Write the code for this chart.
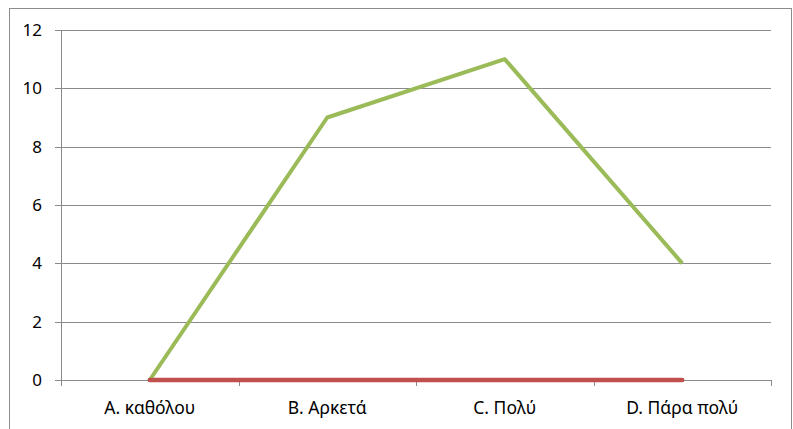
<!DOCTYPE html>
<html>
<head>
<meta charset="utf-8">
<script src="https://cdn.jsdelivr.net/npm/d3@7"></script>
<style>
  body { margin: 0; background: #fff; }
  svg { display: block; font-family: 'Noto Sans', sans-serif; }
</style>
</head>
<body>
<div id="chart"></div>
<script>
const categories = ['A. καθόλου', 'B. Αρκετά', 'C. Πολύ', 'D. Πάρα πολύ'];
const greenValues = [0, 9, 11, 4];
const redValues = [0, 0, 0, 0];
const yTicks = [0, 2, 4, 6, 8, 10, 12];

const width = 793,
  height = 429;
const margin = { top: 30, right: 22, bottom: 49, left: 61 };

const svg = d3
  .select('#chart')
  .append('svg')
  .attr('width', width)
  .attr('height', height);

// outer chart frame
svg
  .append('rect')
  .attr('x', 9.5)
  .attr('y', 8.5)
  .attr('width', 782)
  .attr('height', 440)
  .attr('fill', 'none')
  .attr('stroke', '#8c8c8c');

const x = d3
  .scaleBand()
  .domain(categories)
  .range([margin.left, width - margin.right]);

const y = d3
  .scaleLinear()
  .domain([0, 12])
  .range([height - margin.bottom, margin.top]);

// gridlines
svg
  .append('g')
  .selectAll('line')
  .data(yTicks)
  .enter()
  .append('line')
  .attr('x1', margin.left - 6)
  .attr('x2', width - margin.right)
  .attr('y1', (d) => Math.round(y(d)) + 0.5)
  .attr('y2', (d) => Math.round(y(d)) + 0.5)
  .attr('stroke', '#8a8a8a')
  .attr('stroke-width', 1);

// y axis line
svg
  .append('line')
  .attr('x1', margin.left + 0.5)
  .attr('x2', margin.left + 0.5)
  .attr('y1', margin.top)
  .attr('y2', height - margin.bottom)
  .attr('stroke', '#8a8a8a');

// y labels
svg
  .append('g')
  .selectAll('text')
  .data(yTicks)
  .enter()
  .append('text')
  .attr('x', margin.left - 19)
  .attr('y', (d) => y(d))
  .attr('dy', '0.35em')
  .attr('text-anchor', 'end')
  .style('font-size', '17px')
  .attr('fill', '#000')
  .text((d) => d);

// x ticks at band edges
const edges = categories.map((c) => x(c)).concat([x.range()[1]]);
svg
  .append('g')
  .selectAll('line')
  .data(edges)
  .enter()
  .append('line')
  .attr('x1', (d) => Math.round(d) + 0.5)
  .attr('x2', (d) => Math.round(d) + 0.5)
  .attr('y1', y(0))
  .attr('y2', y(0) + 6)
  .attr('stroke', '#8a8a8a');

// x labels
svg
  .append('g')
  .selectAll('text')
  .data(categories)
  .enter()
  .append('text')
  .attr('x', (d) => x(d) + x.bandwidth() / 2)
  .attr('y', y(0) + 34)
  .attr('text-anchor', 'middle')
  .style('font-size', '17.5px')
  .attr('fill', '#000')
  .text((d) => d);

const line = d3
  .line()
  .x((d, i) => x(categories[i]) + x.bandwidth() / 2)
  .y((d) => y(d));

svg
  .append('path')
  .datum(greenValues)
  .attr('d', line)
  .attr('fill', 'none')
  .attr('stroke', '#9bbb59')
  .attr('stroke-width', 4)
  .attr('stroke-linejoin', 'round');

svg
  .append('path')
  .datum(redValues)
  .attr('d', line)
  .attr('fill', 'none')
  .attr('stroke', '#c0504d')
  .attr('stroke-width', 4.5)
  .attr('stroke-linecap', 'round');
</script>
</body>
</html>
